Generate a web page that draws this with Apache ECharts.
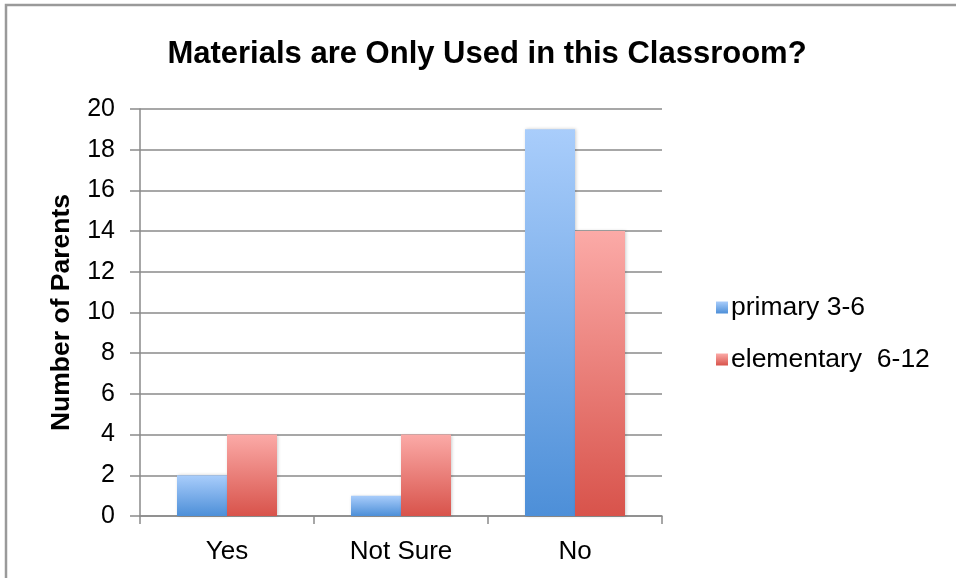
<!DOCTYPE html>
<html>
<head>
<meta charset="utf-8">
<script src="https://cdn.jsdelivr.net/npm/echarts@6/dist/echarts.min.js"></script>
<style>
html,body{margin:0;padding:0;background:#fff;}
#chart{width:956px;height:578px;}
</style>
</head>
<body>
<div id="chart"></div>
<script>
const categories = ['Yes', 'Not Sure', 'No'];
const primary = [2, 1, 19];
const elementary = [4, 4, 14];
const seriesNames = ['primary 3-6', 'elementary  6-12'];
const titleText = 'Materials are Only Used in this Classroom?';
const yAxisName = 'Number of Parents';

const font = 'Liberation Sans, Arial, Helvetica, sans-serif';
const chart = echarts.init(document.getElementById('chart'));

function grad(top, bottom) {
  return new echarts.graphic.LinearGradient(0, 0, 0, 1, [
    {offset: 0, color: top}, {offset: 1, color: bottom}
  ]);
}

chart.setOption({
  backgroundColor: '#fff',
  animation: false,
  graphic: [{
    type: 'rect',
    shape: {x: 6, y: 5, width: 1200, height: 1200},
    style: {fill: 'none', stroke: '#9a9a9a', lineWidth: 2.5},
    silent: true
  }],
  title: {
    text: titleText,
    left: 482,
    textAlign: 'center',
    top: 34,
    textStyle: {fontFamily: font, fontSize: 31, fontWeight: 'bold', color: '#000'}
  },
  legend: {
    orient: 'vertical',
    left: 711,
    top: 289,
    itemWidth: 12,
    itemHeight: 12,
    itemGap: 25,
    icon: 'rect',
    textStyle: {fontFamily: font, fontSize: 26.5, color: '#000', padding: [0, 0, 0, -2]},
    data: seriesNames
  },
  grid: {left: 140, right: 294, top: 109, bottom: 62},
  xAxis: {
    type: 'category',
    data: categories,
    axisLine: {lineStyle: {color: '#8a8a8a', width: 1.5}},
    axisTick: {show: true, length: 8, lineStyle: {color: '#8a8a8a', width: 1.5}},
    axisLabel: {fontFamily: font, fontSize: 26, color: '#000', margin: 23}
  },
  yAxis: {
    type: 'value',
    min: 0, max: 20, interval: 2,
    name: yAxisName,
    nameLocation: 'middle',
    nameGap: 65,
    nameTextStyle: {fontFamily: font, fontSize: 26.5, fontWeight: 'bold', color: '#000'},
    axisLine: {show: true, lineStyle: {color: '#8a8a8a', width: 1.5}},
    axisTick: {show: true, length: 10, lineStyle: {color: '#8a8a8a', width: 1.5}},
    axisLabel: {fontFamily: font, fontSize: 25, color: '#000', margin: 25},
    splitLine: {lineStyle: {color: '#8a8a8a', width: 1.5}}
  },
  series: [{
    name: seriesNames[0],
    type: 'bar',
    data: primary,
    barWidth: 50,
    barGap: '0%',
    itemStyle: {color: grad('#a9cdfb', '#4d8fd8'), shadowColor: 'rgba(0,0,0,0.2)', shadowBlur: 3, shadowOffsetX: 1}
  }, {
    name: seriesNames[1],
    type: 'bar',
    data: elementary,
    barWidth: 50,
    barGap: '0%',
    itemStyle: {color: grad('#fbaaa7', '#d8534b'), shadowColor: 'rgba(0,0,0,0.2)', shadowBlur: 3, shadowOffsetX: 1}
  }]
});
</script>
</body>
</html>
